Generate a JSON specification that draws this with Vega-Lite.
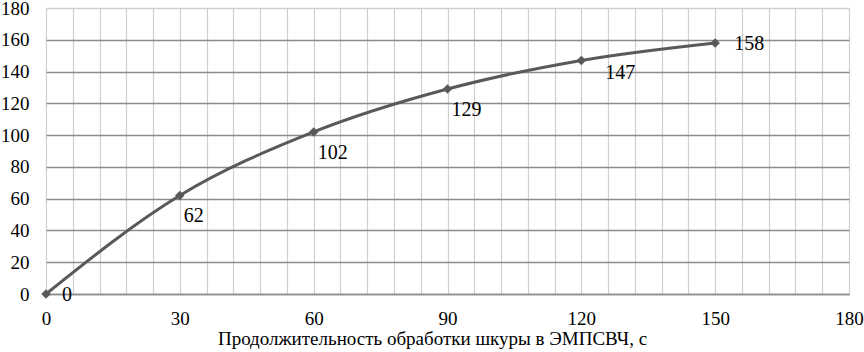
{
  "$schema": "https://vega.github.io/schema/vega-lite/v6.json",
  "width": 803,
  "height": 286,
  "autosize": {"type": "none"},
  "padding": {"left": 46, "top": 8, "right": 15, "bottom": 58},
  "background": "white",
  "config": {
    "view": {"stroke": null},
    "font": "Liberation Serif",
    "text": {"font": "Liberation Serif"},
    "axis": {"labelFont": "Liberation Serif", "titleFont": "Liberation Serif", "labelColor": "black", "titleColor": "black", "titleFontWeight": "normal"}
  },
  "data": {"values": [
    {"t": 0, "v": 0},
    {"t": 30, "v": 62},
    {"t": 60, "v": 102},
    {"t": 90, "v": 129},
    {"t": 120, "v": 147},
    {"t": 150, "v": 158}
  ]},
  "encoding": {
    "x": {"field": "t", "type": "quantitative",
      "scale": {"domain": [0, 180], "nice": false},
      "axis": {
        "values": [0,6,12,18,24,30,36,42,48,54,60,66,72,78,84,90,96,102,108,114,120,126,132,138,144,150,156,162,168,174,180],
        "labelExpr": "datum.value % 30 == 0 ? datum.label : ''",
        "title": "Продолжительность обработки шкуры в ЭМПСВЧ, с",
        "titleFontSize": 19, "titlePadding": 1, "titleX": 386, "titleAlign": "center",
        "labelFontSize": 19, "labelPadding": 15, "labelFlush": false, "labelOverlap": false,
        "ticks": false, "grid": true, "gridColor": "#cfcfcf", "gridWidth": 1.2,
        "domain": true, "domainColor": "#8c8c8c", "domainWidth": 1.5
      }},
    "y": {"field": "v", "type": "quantitative",
      "scale": {"domain": [0, 180], "nice": false},
      "axis": {
        "values": [0,20,40,60,80,100,120,140,160,180],
        "title": null, "labelFontSize": 19, "labelPadding": 17,
        "ticks": false, "domain": false, "grid": true,
        "gridColor": {"condition": {"test": "datum.value == 180", "value": "#cfcfcf"}, "value": "#8c8c8c"},
        "gridWidth": 1.5
      }}
  },
  "layer": [
    {"mark": {"type": "line", "interpolate": "monotone", "color": "#595959", "strokeWidth": 3}},
    {"mark": {"type": "point", "shape": "diamond", "filled": true, "color": "#595959", "size": 90, "opacity": 1}},
    {"transform": [{"filter": "datum.t >= 30 && datum.t <= 90"}],
     "mark": {"type": "text", "align": "left", "baseline": "middle", "dx": 4, "dy": 21, "fontSize": 20, "color": "black"},
     "encoding": {"text": {"field": "v", "type": "quantitative"}}},
    {"transform": [{"filter": "datum.t == 120"}],
     "mark": {"type": "text", "align": "left", "baseline": "middle", "dx": 24, "dy": 13, "fontSize": 20, "color": "black"},
     "encoding": {"text": {"field": "v", "type": "quantitative"}}},
    {"transform": [{"filter": "datum.t == 150"}],
     "mark": {"type": "text", "align": "left", "baseline": "middle", "dx": 19, "dy": 1, "fontSize": 20, "color": "black"},
     "encoding": {"text": {"field": "v", "type": "quantitative"}}},
    {"transform": [{"filter": "datum.t == 0"}],
     "mark": {"type": "text", "align": "left", "baseline": "middle", "dx": 16, "dy": 1, "fontSize": 20, "color": "black"},
     "encoding": {"text": {"field": "v", "type": "quantitative"}}}
  ]
}
